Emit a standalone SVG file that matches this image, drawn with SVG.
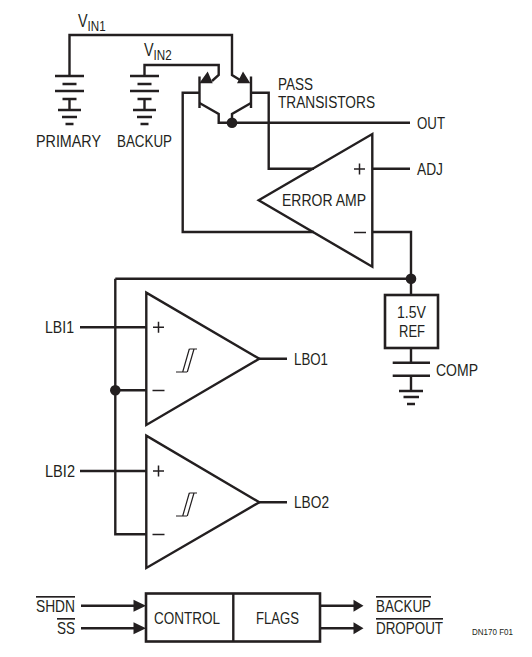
<svg xmlns="http://www.w3.org/2000/svg" width="532" height="657" viewBox="0 0 532 657">
<style>
.w{fill:none;stroke:#231f20;stroke-width:2.4}
.t{fill:none;stroke:#231f20;stroke-width:1.2}
.n{fill:none;stroke:#231f20;stroke-width:1.500}
.b{fill:#231f20}
.f{fill:#fff;stroke:#231f20;stroke-width:2.6}
text{font-family:"Liberation Sans",Arial,sans-serif;font-size:16.500px;fill:#231f20}
.o{text-decoration:overline}
.v{font-size:18px}
.s{font-size:14.500px}
.x{font-size:9.500px}
</style>
<defs>
<g id="bat" class="w"><path d="M-14.500 76H14.500M-7 84H7M-14.500 91H14.500M-7 99H7M0 99V110M-11.500 110H11.500M-7.500 117H7.500M-4 124H4"/></g>
<g id="hyst" class="t"><path d="M176 372H187M182.700 372L189.300 349M187.300 372L194 349M189.300 349H197"/></g>
</defs>
<g id="connectors">
<path class="w" d="M69.500 76V35H232V75L240 80"/>
<path class="w" d="M144.500 76V65H218.700V75L212 81"/>
<path class="w" d="M199.500 76.500V108M199.500 92.700H182.700V232H314"/>
<path class="w" d="M251 76.500V108M251 92.700H268.700V168.700H314"/>
<path class="w" d="M199.500 103L218.700 114V122.700H410M251 103L232 114V122.700"/>
<path class="w" d="M372 168.700H410M372 232H411V294.700M115.300 278.700H411M411 348V362.700M411 375.700V391"/>
<path class="w" d="M80 327.300H146M115.300 278.700V534.300H146M115.300 390.300H146M80 471H146M259 358.700H287M259 502.300H287"/>
<path class="w" d="M81 605.700H136M81 628.300H136M320 605.700H356M320 628.300H356"/>
<path class="b" d="M133.500 599.700L146 605.700L133.500 611.700ZM133.500 622.300L146 628.300L133.500 634.300ZM353.500 599.700L363.500 605.700L353.500 611.700ZM353.500 622.300L363.500 628.300L353.500 634.300Z"/>
<path class="b" d="M243 71.500L250.300 83.300H237Z M207.700 71.500L212.700 83.300H199.300Z"/>
<circle class="b" cx="232" cy="122.700" r="5.300"/>
<circle class="b" cx="411" cy="278.700" r="5.300"/>
<circle class="b" cx="115.300" cy="390.300" r="5.300"/>
</g>
<g id="primary"><use href="#bat" x="69.500"/><text x="36" y="147" textLength="65" lengthAdjust="spacingAndGlyphs">PRIMARY</text></g>
<g id="backup"><use href="#bat" x="144.500"/><text x="117" y="147" textLength="55" lengthAdjust="spacingAndGlyphs">BACKUP</text></g>
<g id="vin1"><text class="v" transform="translate(78 27) scale(.8 1)">V<tspan class="s" dy="3.500">IN1</tspan></text></g>
<g id="vin2"><text class="v" transform="translate(144 56) scale(.8 1)">V<tspan class="s" dy="3.500">IN2</tspan></text></g>
<g id="pass"><text x="278" y="90" textLength="35" lengthAdjust="spacingAndGlyphs">PASS</text><text x="278" y="108" textLength="97" lengthAdjust="spacingAndGlyphs">TRANSISTORS</text></g>
<g id="out"><text x="417" y="129" textLength="28" lengthAdjust="spacingAndGlyphs">OUT</text></g>
<g id="adj"><text x="417" y="174.500" textLength="26" lengthAdjust="spacingAndGlyphs">ADJ</text></g>
<g id="error-amp">
<path class="w" d="M372.300 134V266.700L258.700 200.300Z"/>
<path class="n" d="M354 169H365M359.500 163.500V174.500"/>
<path class="n" d="M354 232.500H366"/>
<text x="282" y="206" textLength="84" lengthAdjust="spacingAndGlyphs">ERROR AMP</text>
</g>
<g id="ref">
<rect class="f" x="385" y="295" width="53" height="53"/>
<text x="397" y="318" textLength="29" lengthAdjust="spacingAndGlyphs">1.5V</text>
<text x="399" y="337" textLength="26" lengthAdjust="spacingAndGlyphs">REF</text>
</g>
<g id="comp">
<path class="w" d="M392.700 362.700H430M392.700 375.700H430M399 391H423M403.500 397H419M407 404H415"/>
<text x="436" y="376" textLength="42" lengthAdjust="spacingAndGlyphs">COMP</text>
</g>
<g id="lb1">
<path class="w" d="M146.300 292.700V425L259.300 358.700Z"/>
<path class="n" d="M153 327.300H164M158.500 321.800V332.800"/>
<path class="n" d="M152.500 390.500H164.500"/>
<use href="#hyst"/>
<text x="45" y="333" textLength="29" lengthAdjust="spacingAndGlyphs">LBI1</text>
<text x="294" y="364.500" textLength="34" lengthAdjust="spacingAndGlyphs">LBO1</text>
</g>
<g id="lb2">
<path class="w" d="M146.300 435.700V568L259.300 502.300Z"/>
<path class="n" d="M153 471H164M158.500 465.500V476.500"/>
<path class="n" d="M152.500 534.500H164.500"/>
<use href="#hyst" y="144"/>
<text x="45" y="476.500" textLength="30" lengthAdjust="spacingAndGlyphs">LBI2</text>
<text x="294" y="508" textLength="35" lengthAdjust="spacingAndGlyphs">LBO2</text>
</g>
<g id="control-flags">
<rect class="f" x="146" y="593.500" width="174" height="48"/>
<path class="w" d="M233.300 593.500V641.500"/>
<text x="154" y="624" textLength="66" lengthAdjust="spacingAndGlyphs">CONTROL</text>
<text x="256" y="624" textLength="43" lengthAdjust="spacingAndGlyphs">FLAGS</text>
</g>
<g id="inputs"><text class="o" x="36" y="612" textLength="39" lengthAdjust="spacingAndGlyphs">SHDN</text><text class="o" x="57" y="634" textLength="18" lengthAdjust="spacingAndGlyphs">SS</text></g>
<g id="outputs"><text class="o" x="376" y="612" textLength="55" lengthAdjust="spacingAndGlyphs">BACKUP</text><text class="o" x="376" y="634" textLength="67" lengthAdjust="spacingAndGlyphs">DROPOUT</text></g>
<g id="fig"><text class="x" x="472" y="635" textLength="41" lengthAdjust="spacingAndGlyphs">DN170 F01</text></g>
</svg>
